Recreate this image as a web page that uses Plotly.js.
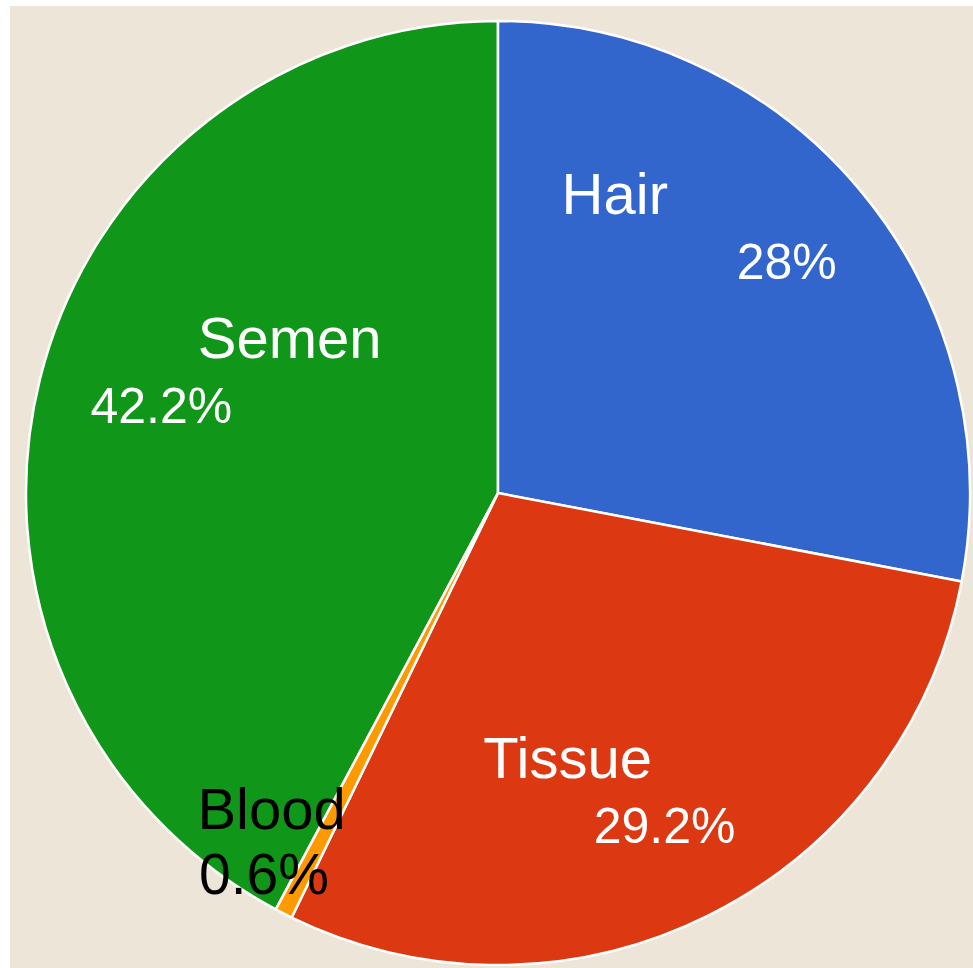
<!DOCTYPE html>
<html>
<head>
<meta charset="utf-8">
<script src="https://cdn.plot.ly/plotly-3.0.1.min.js"></script>
<style>html,body{margin:0;padding:0;background:#fff;}#chart{width:973px;height:968px;}</style>
</head>
<body>
<div id="chart"></div>
<script>
// Clockwise order in the picture starting at 12 o'clock: Hair, Tissue, Blood, Semen
const categories = ["Hair", "Tissue", "Blood", "Semen"];
const values = [28, 29.2, 0.6, 42.2];
const colors = ["#3366CC", "#DC3912", "#FF9900", "#109618"];
const textColors = ["#ffffff", "#ffffff", "#000000", "#ffffff"];

const NB = "\u00A0";
const pad = n => NB.repeat(n);
// label line / percent line, with non-breaking spaces used to stagger the two lines
function tpl(labelPre, labelPost, pctPre, pctPost, linesAbove, linesBelow, pctSize) {
  let s = "";
  for (let i = 0; i < linesAbove; i++) s += NB + "<br>";
  s += '<span style="font-size:58px">' + pad(labelPre) + "%{label}" + pad(labelPost) + "</span><br>";
  s += '<span style="font-size:' + pctSize + 'px">' + pad(pctPre) + "%{percent}" + pad(pctPost) + "</span>";
  for (let i = 0; i < linesBelow; i++) s += "<br>" + NB;
  return s;
}
const templates = [
  tpl(0, 11, 12, 0, 0, 3, 50),   // Hair
  tpl(0, 6, 7, 0, 2, 0, 50),     // Tissue
  tpl(0, 2, 0, 3, 0, 2, 57),     // Blood
  tpl(3, 0, 0, 15, 0, 2, 50)     // Semen
];

// Draw Semen first so the small Blood slice (and its label) is painted last, on top.
const order = [3, 0, 1, 2];
const total = values.reduce((a, b) => a + b, 0);
const startRotation = 360 * (total - values[3]) / total;

const W = 973, H = 968;
const trace = {
  type: "pie",
  labels: order.map(i => categories[i]),
  values: order.map(i => values[i]),
  sort: false,
  direction: "clockwise",
  rotation: startRotation,
  marker: {colors: order.map(i => colors[i]), line: {color: "#ffffff", width: 2.5}},
  texttemplate: order.map(i => templates[i]),
  textposition: "inside",
  insidetextorientation: "horizontal",
  textfont: {family: "Arial, 'Liberation Sans', sans-serif", size: 50, color: order.map(i => textColors[i])},
  hoverinfo: "label+percent",
  showlegend: false,
  domain: {x: [26 / W, 970 / W], y: [1 - 965 / H, 1 - 21 / H]}
};
const layout = {
  width: W, height: H,
  margin: {l: 0, r: 0, t: 0, b: 0},
  paper_bgcolor: "#ffffff",
  showlegend: false,
  uniformtext: {minsize: 50, mode: "show"},
  shapes: [{type: "rect", xref: "paper", yref: "paper", x0: 10 / W, x1: 1, y0: 0, y1: 1 - 6 / H,
            fillcolor: "#EEE5D9", line: {width: 0}, layer: "below"}]
};
Plotly.newPlot("chart", [trace], layout, {displayModeBar: false});
</script>
</body>
</html>
